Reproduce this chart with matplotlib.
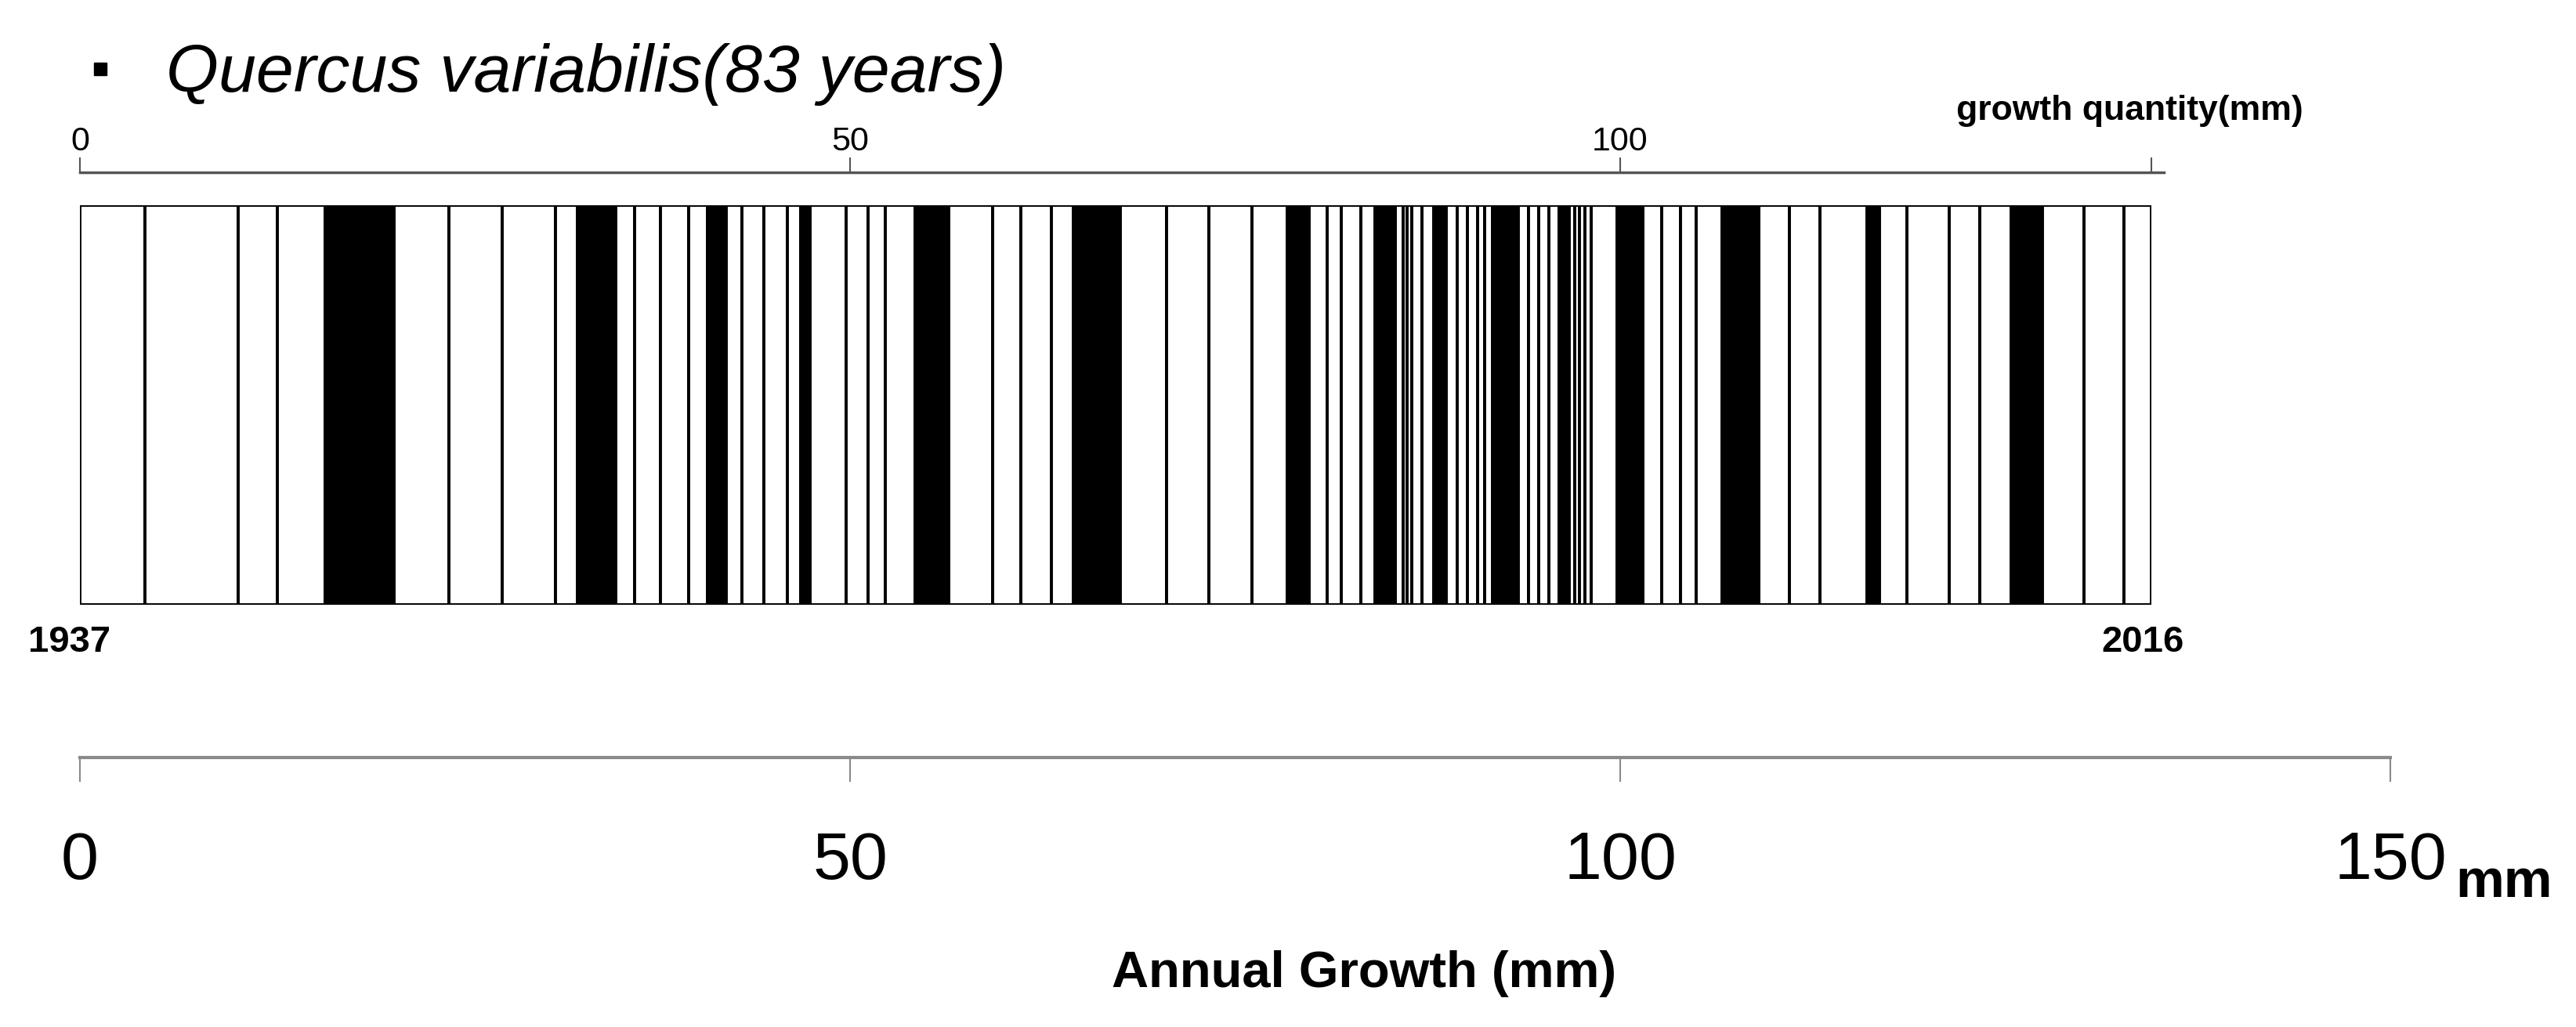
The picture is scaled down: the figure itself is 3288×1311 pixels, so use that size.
import numpy as np
import matplotlib
matplotlib.use("Agg")
import matplotlib.pyplot as plt
from matplotlib.lines import Line2D

ring_widths = [4.22, 6.04, 2.54, 3.10, 4.48, 3.60, 3.46, 3.45, 1.43, 2.49,
               1.22, 1.67, 1.83, 1.22, 1.22, 1.02, 1.42, 1.52, 0.87, 0.61,
               2.34, 1.42, 1.12, 1.93, 2.18, 2.85, 1.83, 1.98, 1.42, 3.05,
               3.00, 2.79, 2.75, 2.33, 1.43, 1.16, 0.92, 1.27, 0.92, 1.32,
               0.50, 0.26, 0.30, 0.66, 0.77, 0.81, 0.71, 0.66, 0.66, 0.46,
               0.51, 1.67, 0.66, 0.67, 0.66, 0.66, 0.66, 0.35, 0.31, 0.35,
               0.41, 1.68, 1.67, 1.22, 1.22, 1.02, 1.68, 2.39, 1.98, 1.98,
               3.05, 0.81, 1.78, 2.74, 2.03, 1.99, 2.08, 2.69, 2.59, 1.78]
first_year = 1937
last_year = 2016
black_years = [1941, 1946, 1951, 1956, 1961, 1966, 1971, 1976,
               1982, 1988, 1993, 1999, 2004, 2008, 2013]

top_ticks = [0, 50, 100]
bottom_ticks = [0, 50, 100, 150]

title = "Quercus variabilis(83 years)"
top_label = "growth quantity(mm)"
x_label = "Annual Growth (mm)"

plain = ["Liberation Sans", "DejaVu Sans"]

W, H = 3288, 1311
px_per_mm = 19.66
x0 = 102

years = np.arange(first_year, first_year + len(ring_widths))
widths = np.array(ring_widths)
lefts = np.concatenate([[0], np.cumsum(widths)[:-1]])
total = widths.sum()
colors = ["black" if y in black_years else "white" for y in years]

fig = plt.figure(figsize=(W / 100, H / 100), dpi=100)


def fx(px):
    return px / W


def fy(py):
    return 1 - py / H


# ring strip
ax = fig.add_axes([fx(x0), fy(772), total * px_per_mm / W, 510 / H])
ax.bar(lefts, 1, width=widths, align="edge", color=colors,
       edgecolor="black", linewidth=2.8)
ax.set_xlim(0, total)
ax.set_ylim(0, 1)
ax.axis("off")

# top scale
ax_top = fig.add_axes([fx(x0), fy(230), (total + 0.8) * px_per_mm / W, 10 / H])
ax_top.set_xlim(0, total + 0.8)
for s in ["left", "right", "bottom"]:
    ax_top.spines[s].set_visible(False)
ax_top.spines["top"].set_color("#555555")
ax_top.spines["top"].set_linewidth(2.5)
ax_top.set_yticks([])
ax_top.set_xticks(top_ticks + [total])
ax_top.set_xticklabels([str(t) for t in top_ticks] + [""],
                       family=plain, fontsize=31)
ax_top.tick_params(axis="x", top=True, bottom=False, labeltop=True,
                   labelbottom=False, direction="out", length=14,
                   width=1.5, color="#555555", pad=0)
ax_top.patch.set_visible(False)

# bottom scale
ax_bot = fig.add_axes([fx(x0), fy(977), 150 * px_per_mm / W, 10 / H])
ax_bot.set_xlim(0, 150)
for s in ["left", "right", "bottom"]:
    ax_bot.spines[s].set_visible(False)
ax_bot.spines["top"].set_color("#8a8a8a")
ax_bot.spines["top"].set_linewidth(3)
ax_bot.set_yticks([])
ax_bot.set_xticks(bottom_ticks)
ax_bot.set_xticklabels([str(t) for t in bottom_ticks], family=plain,
                       fontsize=62)
ax_bot.tick_params(axis="x", top=True, bottom=False, labeltop=False,
                   labelbottom=True, direction="in", length=22,
                   width=1.5, color="#8a8a8a", pad=60)
ax_bot.patch.set_visible(False)

# texts
fig.add_artist(Line2D([fx(128)], [fy(88)], marker="s", markersize=11,
                      color="black", transform=fig.transFigure))
fig.text(fx(212), fy(95), title, style="italic", family=plain,
         fontsize=62, ha="left", va="center")
fig.text(fx(2718), fy(142), top_label, family=plain, fontweight="bold",
         fontsize=32, ha="center", va="center")
fig.text(fx(89), fy(820), str(first_year), family=plain, fontweight="bold",
         fontsize=34, ha="center", va="center")
fig.text(fx(2735), fy(820), str(last_year), family=plain, fontweight="bold",
         fontsize=34, ha="center", va="center")
fig.text(fx(3196), fy(1145), "mm", family=plain, fontweight="bold",
         fontsize=50, ha="center", va="baseline")
fig.text(fx(1741), fy(1243), x_label, family=plain, fontweight="bold",
         fontsize=47, ha="center", va="center")

fig.savefig("out.png", dpi=100, facecolor="white")
